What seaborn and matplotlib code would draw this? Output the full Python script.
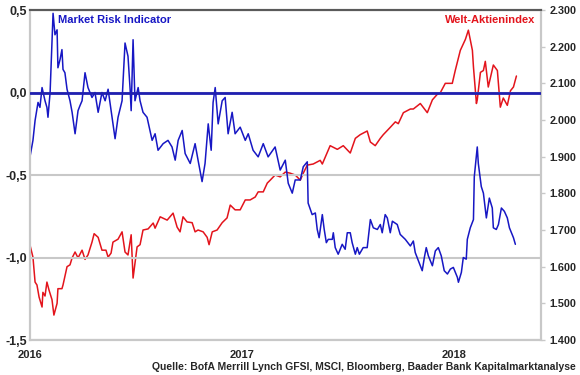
import pandas as pd
import numpy as np
import matplotlib
matplotlib.use("Agg")
import matplotlib.pyplot as plt
import seaborn as sns

# time in years after 2016-01-01
risk_t = [0.000, 0.014, 0.024, 0.038, 0.047, 0.057, 0.071, 0.080, 0.085, 0.095, 0.104, 0.109, 0.118, 0.128,
          0.132, 0.142, 0.151, 0.156, 0.165, 0.175, 0.189, 0.199, 0.213, 0.227, 0.236, 0.246, 0.260, 0.274,
          0.293, 0.307, 0.322, 0.340, 0.355, 0.369, 0.388, 0.402, 0.416, 0.435, 0.449, 0.463, 0.473, 0.478,
          0.487, 0.496, 0.511, 0.520, 0.534, 0.553, 0.577, 0.591, 0.605, 0.629, 0.652, 0.671, 0.686, 0.700,
          0.719, 0.733, 0.757, 0.780, 0.794, 0.813, 0.827, 0.842, 0.856, 0.865, 0.875, 0.889, 0.908, 0.922,
          0.936, 0.955, 0.969, 0.993, 1.017, 1.031, 1.054, 1.078, 1.102, 1.125, 1.158, 1.182, 1.206, 1.220,
          1.239, 1.253, 1.277, 1.291, 1.310, 1.314, 1.333, 1.348, 1.357, 1.366, 1.381, 1.390, 1.400, 1.409,
          1.428, 1.433, 1.442, 1.456, 1.475, 1.489, 1.499, 1.513, 1.522, 1.537, 1.546, 1.556, 1.574, 1.593,
          1.608, 1.622, 1.641, 1.655, 1.664, 1.678, 1.688, 1.702, 1.712, 1.735, 1.749, 1.773, 1.797, 1.811,
          1.820, 1.835, 1.853, 1.863, 1.872, 1.882, 1.901, 1.915, 1.929, 1.943, 1.957, 1.972, 1.986, 2.000,
          2.019, 2.024, 2.038, 2.047, 2.061, 2.066, 2.080, 2.095, 2.099, 2.113, 2.118, 2.132, 2.142, 2.156,
          2.170, 2.184, 2.189, 2.203, 2.213, 2.227, 2.241, 2.255, 2.265, 2.284, 2.293]
risk_val = [-0.39, -0.29, -0.17, -0.06, -0.09, 0.03, -0.05, -0.09, -0.15, 0.00, 0.30, 0.48, 0.35, 0.38,
            0.15, 0.20, 0.26, 0.14, 0.12, 0.02, -0.05, -0.12, -0.25, -0.11, -0.08, -0.05, 0.12, 0.03,
            -0.03, 0.00, -0.12, 0.00, -0.05, 0.02, -0.15, -0.28, -0.15, -0.05, 0.30, 0.22, 0.02, -0.11,
            0.32, -0.05, 0.03, -0.05, -0.12, -0.15, -0.29, -0.25, -0.35, -0.31, -0.29, -0.33, -0.41, -0.29,
            -0.23, -0.37, -0.43, -0.31, -0.41, -0.54, -0.43, -0.19, -0.35, -0.06, 0.03, -0.19, -0.05, -0.03,
            -0.25, -0.12, -0.25, -0.21, -0.29, -0.25, -0.35, -0.39, -0.31, -0.39, -0.33, -0.47, -0.41, -0.55,
            -0.61, -0.53, -0.53, -0.45, -0.42, -0.67, -0.74, -0.73, -0.83, -0.88, -0.74, -0.83, -0.91, -0.89,
            -0.89, -0.85, -0.94, -0.98, -0.92, -0.95, -0.85, -0.85, -0.91, -0.98, -0.94, -0.98, -0.94, -0.94,
            -0.77, -0.82, -0.83, -0.80, -0.85, -0.74, -0.76, -0.85, -0.78, -0.80, -0.86, -0.89, -0.93, -0.90,
            -0.97, -1.02, -1.08, -1.00, -0.94, -0.99, -1.05, -0.96, -0.94, -0.99, -1.08, -1.10, -1.07, -1.06,
            -1.12, -1.15, -1.09, -1.00, -1.01, -0.89, -0.82, -0.77, -0.51, -0.33, -0.43, -0.57, -0.61, -0.76,
            -0.64, -0.70, -0.82, -0.83, -0.80, -0.70, -0.72, -0.76, -0.82, -0.88, -0.92]

world_t = [0.000, 0.014, 0.024, 0.033, 0.043, 0.057, 0.061, 0.071, 0.080, 0.090, 0.104, 0.113, 0.128, 0.132,
           0.151, 0.156, 0.175, 0.189, 0.199, 0.213, 0.227, 0.246, 0.260, 0.274, 0.293, 0.303, 0.322, 0.340,
           0.359, 0.369, 0.383, 0.392, 0.416, 0.435, 0.449, 0.463, 0.478, 0.487, 0.506, 0.520, 0.534, 0.558,
           0.582, 0.591, 0.615, 0.648, 0.676, 0.695, 0.709, 0.723, 0.742, 0.766, 0.780, 0.794, 0.818, 0.837,
           0.846, 0.861, 0.884, 0.908, 0.931, 0.946, 0.969, 0.993, 1.017, 1.040, 1.064, 1.078, 1.102, 1.121,
           1.135, 1.158, 1.182, 1.206, 1.229, 1.253, 1.277, 1.291, 1.310, 1.338, 1.371, 1.381, 1.418, 1.452,
           1.480, 1.513, 1.537, 1.560, 1.593, 1.608, 1.631, 1.655, 1.669, 1.702, 1.726, 1.740, 1.764, 1.797,
           1.811, 1.844, 1.877, 1.901, 1.924, 1.939, 1.962, 1.995, 2.009, 2.033, 2.057, 2.071, 2.090, 2.095,
           2.109, 2.113, 2.128, 2.142, 2.151, 2.165, 2.189, 2.208, 2.222, 2.236, 2.255, 2.270, 2.284, 2.298]
world_val = [1.659, 1.626, 1.558, 1.550, 1.517, 1.490, 1.530, 1.520, 1.558, 1.536, 1.510, 1.468, 1.500, 1.540,
             1.540, 1.550, 1.600, 1.605, 1.624, 1.640, 1.624, 1.645, 1.620, 1.632, 1.667, 1.690, 1.680, 1.645,
             1.645, 1.626, 1.637, 1.667, 1.675, 1.695, 1.640, 1.632, 1.687, 1.569, 1.654, 1.660, 1.700, 1.703,
             1.719, 1.705, 1.736, 1.727, 1.746, 1.708, 1.695, 1.736, 1.722, 1.720, 1.695, 1.700, 1.695, 1.680,
             1.660, 1.695, 1.700, 1.720, 1.733, 1.768, 1.755, 1.755, 1.782, 1.782, 1.790, 1.804, 1.804, 1.828,
             1.836, 1.850, 1.845, 1.858, 1.855, 1.850, 1.836, 1.855, 1.877, 1.880, 1.890, 1.880, 1.930, 1.920,
             1.930, 1.910, 1.950, 1.960, 1.970, 1.940, 1.930, 1.950, 1.960, 1.980, 1.995, 1.990, 2.020, 2.030,
             2.030, 2.045, 2.020, 2.055, 2.070, 2.075, 2.100, 2.100, 2.135, 2.190, 2.220, 2.245, 2.190, 2.145,
             2.045, 2.055, 2.130, 2.135, 2.160, 2.090, 2.150, 2.135, 2.035, 2.060, 2.040, 2.080, 2.090, 2.120]

left_ticks = [-1.5, -1.0, -0.5, 0.0, 0.5]
right_ticks = [1.4, 1.5, 1.6, 1.7, 1.8, 1.9, 2.0, 2.1, 2.2, 2.3]
year_ticks = ["2016", "2017", "2018"]
source = "Quelle: BofA Merrill Lynch GFSI, MSCI, Bloomberg, Baader Bank Kapitalmarktanalyse"

blue = "#1717c4"
red = "#e3141c"
grey = "#c8c8c8"

sns.set_style("white")
plt.rcParams['font.family'] = ['Liberation Sans', 'DejaVu Sans']
plt.rcParams['font.weight'] = 'bold'

start = pd.Timestamp("2016-01-01")
def to_date(t):
    return start + pd.to_timedelta(np.array(t) * 365.25, unit="D")

riskDF = pd.DataFrame({"date": to_date(risk_t), "value": risk_val})
worldDF = pd.DataFrame({"date": to_date(world_t), "value": world_val})

fig = plt.figure(figsize=(5.8, 3.75), dpi=100)
ax = fig.add_axes([0.0517, 0.0933, 0.8813, 0.88])
ax2 = ax.twinx()

sns.lineplot(data=worldDF, x="date", y="value", ax=ax2, color=red, lw=1.1)
sns.lineplot(data=riskDF, x="date", y="value", ax=ax, color=blue, lw=1.1)
ax.axhline(0.0, color="#1f1fb0", lw=2.0, zorder=5)

# left axis on top so the blue line sits over the red one
ax.set_zorder(ax2.get_zorder() + 1)
ax.patch.set_visible(False)

ax.set_ylim(-1.5, 0.5)
ax2.set_ylim(1.4, 2.3)
ax.set_xlim(start, start + pd.Timedelta(days=882))

ax.set_yticks(left_ticks)
ax.set_yticklabels([("%.1f" % v).replace(".", ",") for v in left_ticks], fontsize=9, fontweight="bold")
ax2.set_yticks(right_ticks)
ax2.set_yticklabels(["%.3f" % v for v in right_ticks], fontsize=7.8, fontweight="bold")
ax.set_xticks([pd.Timestamp(y + "-01-01") for y in year_ticks])
ax.set_xticklabels(year_ticks, fontsize=8, fontweight="bold")

ax.tick_params(axis="y", length=0, pad=2)
ax.tick_params(axis="x", length=4, color=grey, width=1, pad=3, direction="out")
ax2.tick_params(axis="y", length=3, color=grey, width=1, pad=3, direction="out")

ax.grid(axis="y", color=grey, lw=1.5)
ax.grid(axis="x", visible=False)
ax2.grid(False)
ax.set_xlabel("")
ax.set_ylabel("")
ax2.set_ylabel("")

for a in [ax, ax2]:
    for s in ["left", "right", "bottom"]:
        a.spines[s].set_color(grey)
        a.spines[s].set_linewidth(1.5)
    a.spines["top"].set_color("#5a5a5a")
    a.spines["top"].set_linewidth(1.5)

ax.text(0.055, 0.97, "Market Risk Indicator", transform=ax.transAxes, color=blue,
        fontsize=8, fontweight="bold", ha="left", va="center", zorder=6)
ax.text(0.988, 0.97, "Welt-Aktienindex", transform=ax.transAxes, color=red,
        fontsize=8, fontweight="bold", ha="right", va="center", zorder=6)
fig.text(0.992, 0.022, source, fontsize=7.5, fontweight="bold", ha="right", va="center")

fig.savefig("out.png", dpi=100)
